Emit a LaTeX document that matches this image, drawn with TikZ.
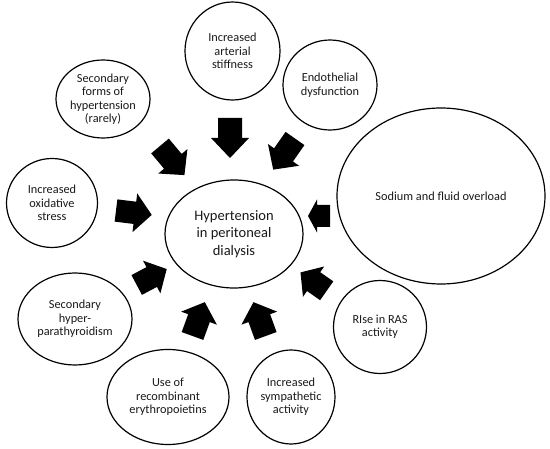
\documentclass[tikz,border=0pt]{standalone}
\usepackage{fontspec}
\setmainfont{Carlito}
\usetikzlibrary{shapes.geometric}
\tikzset{
  bubble/.style={draw=black, line width=1.2pt, ellipse, inner sep=0pt, align=center,
    font=\fontsize{12.3}{13.5}\selectfont, text=black!90},
  pics/barrow/.style n args={4}{code={
    \fill[black] (0,-#2) -- ({#1-#4},-#2) -- ({#1-#4},-#3) -- (#1,0) -- ({#1-#4},#3) -- ({#1-#4},#2) -- (0,#2) -- cycle;
  }}
}
\begin{document}
\begin{tikzpicture}[x=1pt,y=-1pt]
\useasboundingbox (0,0) rectangle (550,449);

\node[bubble, minimum width=138pt, minimum height=108pt, font=\fontsize{14.5}{17.5}\selectfont] (hyp) at (234,234) {Hypertension\\in peritoneal\\dialysis};

\node[bubble, minimum width=95pt, minimum height=98pt] (art) at (232.5,51) {Increased\\arterial\\stiffness};
\node[bubble, minimum width=94pt, minimum height=78pt] (sec) at (103,99) {Secondary\\forms of\\hypertension\\(rarely)};
\node[bubble, minimum width=94pt, minimum height=90pt] (endo) at (330,85) {Endothelial\\dysfunction};
\node[bubble, minimum width=208pt, minimum height=176pt] (sod) at (441,196) {Sodium and fluid overload};
\node[bubble, minimum width=91pt, minimum height=89pt] (oxi) at (52,203) {Increased\\oxidative\\stress};
\node[bubble, minimum width=114pt, minimum height=92pt] (para) at (75,319) {Secondary\\hyper-\\parathyroidism};
\node[bubble, minimum width=122pt, minimum height=95pt] (epo) at (168,397) {Use of\\recombinant\\erythropoietins};
\node[bubble, minimum width=88pt, minimum height=94pt] (sym) at (291,397) {Increased\\sympathetic\\activity};
\node[bubble, minimum width=93pt, minimum height=93pt] (ras) at (380,327) {RIse in RAS\\activity};

% block arrows: length, shaft half-width, head half-width, head length
\pic[rotate=-90] at (230,118) {barrow={40}{12}{19}{20}};
\pic[rotate=-50] at (160,146) {barrow={38}{11.5}{19}{18}};
\pic[rotate=-125] at (295,138.5) {barrow={38}{11.5}{19}{18}};
\pic[rotate=-7] at (116,210.5) {barrow={36}{11.2}{19.5}{17}};
\pic[rotate=180] at (330,216) {barrow={22}{11}{16.5}{9}};
\pic[rotate=28] at (136.7,285) {barrow={34}{11.2}{18.5}{17}};
\pic[rotate=70] at (192.5,336) {barrow={36}{11.5}{19}{17}};
\pic[rotate=110] at (265.8,336) {barrow={36}{11.5}{19}{17}};
\pic[rotate=145] at (326.7,290.8) {barrow={32}{11.5}{18.5}{16}};
\end{tikzpicture}
\end{document}
